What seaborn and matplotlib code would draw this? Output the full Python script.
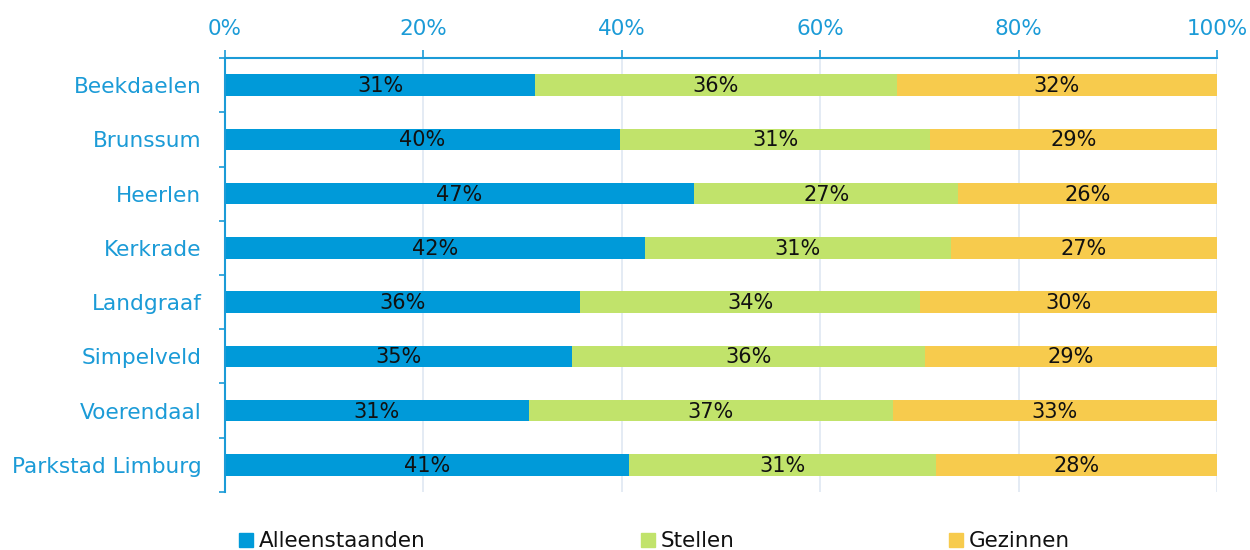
import matplotlib
matplotlib.use("Agg")
import matplotlib.pyplot as plt
import seaborn as sns
import numpy as np
import pandas as pd
from matplotlib.lines import Line2D

categories = ["Beekdaelen", "Brunssum", "Heerlen", "Kerkrade", "Landgraaf",
              "Simpelveld", "Voerendaal", "Parkstad Limburg"]
alleenstaanden = [31.3, 39.8, 47.3, 42.3, 35.8, 35.0, 30.6, 40.7]
stellen = [36.4, 31.3, 26.6, 30.9, 34.3, 35.6, 36.7, 31.0]
gezinnen = [32.3, 28.9, 26.1, 26.8, 29.9, 29.4, 32.7, 28.3]
series_names = ["Alleenstaanden", "Stellen", "Gezinnen"]
tick_values = [0, 20, 40, 60, 80, 100]
tick_labels = ["0%", "20%", "40%", "60%", "80%", "100%"]

colors = ["#009ad9", "#c1e36b", "#f7cb4d"]
axis_blue = "#1b9bd7"

sns.set_theme(style="white")
plt.rcParams["font.family"] = ["DejaVu Sans"]

df = pd.DataFrame({"cat": categories, "a": alleenstaanden, "s": stellen, "g": gezinnen})
df["c1"] = df["a"]
df["c2"] = df["a"] + df["s"]
df["c3"] = df["a"] + df["s"] + df["g"]

fig = plt.figure(figsize=(12.5, 5.5), dpi=100)
ax = fig.add_axes([0.18, 0.1055, 0.7936, 0.789])

for col, color in zip(["c3", "c2", "c1"], colors[::-1]):
    sns.barplot(data=df, x=col, y="cat", orient="h", color=color, width=0.4,
                ax=ax, linewidth=0, saturation=1, zorder=2)

# segment labels
for i, row in df.iterrows():
    starts = [0, row["c1"], row["c2"]]
    vals = [row["a"], row["s"], row["g"]]
    for st, v in zip(starts, vals):
        ax.text(st + v / 2, i + 0.02, f"{round(v):d}%", ha="center", va="center",
                fontsize=15, color="#111111", zorder=3)

ax.set_xlim(0, 100)
ax.set_ylim(len(categories) - 0.5, -0.5)
ax.xaxis.tick_top()
ax.set_xticks(tick_values)
ax.set_xticklabels(tick_labels)
ax.tick_params(axis="x", colors=axis_blue, labelcolor=axis_blue, labelsize=15.5,
               length=6, width=1.2, pad=8, direction="out")
ax.set_xlabel("")
ax.set_ylabel("")
ax.set_yticks(range(len(categories)))
ax.set_yticklabels(categories)
ax.set_yticks(np.arange(-0.5, len(categories), 1.0), minor=True)
ax.tick_params(axis="y", which="major", length=0, pad=17, labelsize=15.6,
               labelcolor=axis_blue)
ax.tick_params(axis="y", which="minor", length=4, width=1.2, color=axis_blue,
               left=True, direction="out")

ax.grid(axis="x", color="#dfe8f2", linewidth=1.2, zorder=0)
ax.set_axisbelow(True)
for side in ["right", "bottom"]:
    ax.spines[side].set_visible(False)
for side in ["top", "left"]:
    ax.spines[side].set_visible(True)
    ax.spines[side].set_color(axis_blue)
    ax.spines[side].set_linewidth(1.5)

handles = [Line2D([0], [0], marker="s", linestyle="", markersize=10,
                  markerfacecolor=c, markeredgecolor=c) for c in colors]
leg = fig.legend(handles, series_names, loc="lower left", bbox_to_anchor=(0.184, -0.018),
                 ncol=3, frameon=False, fontsize=15.5, handlelength=0.7,
                 handletextpad=0.25, columnspacing=9.95, borderaxespad=0)
for t in leg.get_texts():
    t.set_color("#111111")

fig.savefig("out.png", dpi=100)
